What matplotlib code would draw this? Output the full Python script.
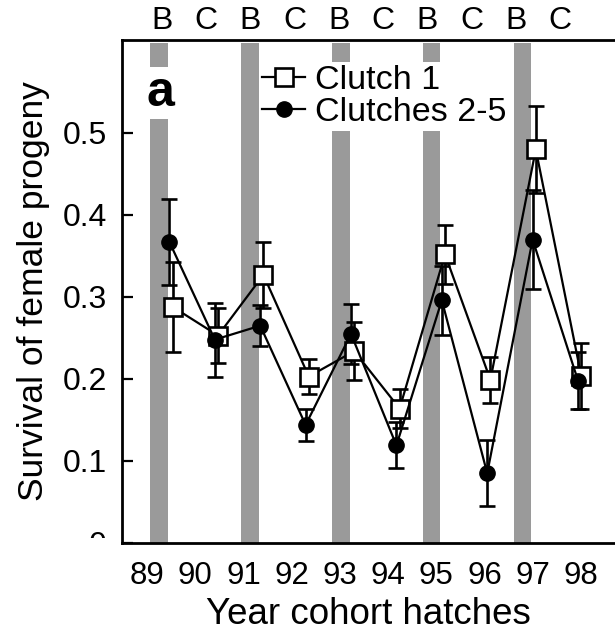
"""Survival of female progeny by hatch year: clutch 1 vs clutches 2-5 (panel a)."""

import matplotlib.pyplot as plt
import numpy as np
from matplotlib.patches import Rectangle
from matplotlib.transforms import blended_transform_factory

plt.rcParams["font.family"] = ["Liberation Sans", "DejaVu Sans"]

YEARS = ["89", "90", "91", "92", "93", "94", "95", "96", "97", "98"]
SEASON = ["B", "C", "B", "C", "B", "C", "B", "C", "B", "C"]

CLUTCH1 = [0.288, 0.253, 0.327, 0.203, 0.234, 0.164, 0.352, 0.199, 0.480, 0.204]
CLUTCH1_SE = [0.055, 0.034, 0.040, 0.021, 0.035, 0.024, 0.036, 0.028, 0.053, 0.040]
CLUTCH25 = [0.367, 0.248, 0.265, 0.144, 0.255, 0.119, 0.296, 0.085, 0.370, 0.198]
CLUTCH25_SE = [0.052, 0.045, 0.025, 0.020, 0.037, 0.028, 0.042, 0.040, 0.060, 0.035]

BAR_TOP = 0.61
GREY = "#9a9a9a"


def main() -> None:
    W, H = 615, 632
    fig = plt.figure(figsize=(W / 100, H / 100), dpi=100)
    # axes box in pixels: left 122, right 625 (past the edge), top 40, bottom 543
    ax = fig.add_axes([122 / W, 1 - 543 / H, 503 / W, 503 / H])

    idx = np.arange(len(YEARS))
    is_b = np.array([s == "B" for s in SEASON])

    # grey columns for the "B" years, drawn slightly left of the data points
    ax.bar(idx[is_b] - 0.26, BAR_TOP, width=0.385, color=GREY, zorder=1)

    kw = dict(color="black", lw=1.6, elinewidth=1.9, capsize=5.5, capthick=1.9, zorder=3)
    c1 = ax.errorbar(idx + 0.035, CLUTCH1, yerr=CLUTCH1_SE, fmt="-s", ms=12.5,
                     mfc="white", mec="black", mew=1.9, **kw)
    c2 = ax.errorbar(idx - 0.035, CLUTCH25, yerr=CLUTCH25_SE, fmt="-o", ms=11,
                     mfc="black", mec="black", **kw)

    ax.set_xlim(-1.08, 10.0)
    ax.set_ylim(0, 0.6134)

    ax.set_yticks([0, 0.1, 0.2, 0.3, 0.4, 0.5])
    ax.set_yticklabels(["0", "0.1", "0.2", "0.3", "0.4", "0.5"])
    ax.tick_params(axis="y", direction="in", length=8, width=1.6, pad=11, labelsize=23)

    # year labels sit on their own, slightly wider spacing
    ax.set_xticks(idx * 1.062 - 0.53)
    ax.set_xticklabels(YEARS)
    ax.tick_params(axis="x", length=0, pad=13, labelsize=22.5)

    for side in ["left", "bottom", "top", "right"]:
        ax.spines[side].set_linewidth(2)

    ax.set_ylabel("Survival of female progeny", fontsize=25.5, labelpad=9)
    ax.set_xlabel("Year cohort hatches", fontsize=26.5)
    ax.xaxis.set_label_coords(0.489, -0.108)

    # season letters across the top
    trans = blended_transform_factory(ax.transData, ax.transAxes)
    for i, s in enumerate(SEASON):
        ax.text(i * 0.975 - 0.2, 1.037, s, transform=trans, ha="center", va="center",
                fontsize=23)

    ax.text(0.0755, 0.895, "a", transform=ax.transAxes, ha="center", va="center",
            fontsize=36, fontweight="bold", zorder=4,
            bbox=dict(facecolor="white", edgecolor="none", pad=2))

    leg = ax.legend([c1[0], c2[0]], ["Clutch 1", "Clutches 2-5"], loc="upper left",
                    bbox_to_anchor=(259 / W, 1 - 62 / H), bbox_transform=fig.transFigure,
                    borderaxespad=0, fontsize=24.5, handlelength=1.25, handletextpad=0.3,
                    labelspacing=0.02, borderpad=0.1, frameon=True, fancybox=False)
    leg.get_frame().set_facecolor("white")
    leg.get_frame().set_edgecolor("none")
    leg.get_frame().set_alpha(1)
    leg.set_zorder(5)

    # the source image is cropped just under the axis, clipping the "0" label
    fig.add_artist(Rectangle((0, 0), 119 / W, 1 - 538 / H, transform=fig.transFigure,
                             facecolor="white", edgecolor="none", zorder=10))

    fig.savefig("out.png", dpi=100)
    plt.close(fig)


if __name__ == "__main__":
    main()
